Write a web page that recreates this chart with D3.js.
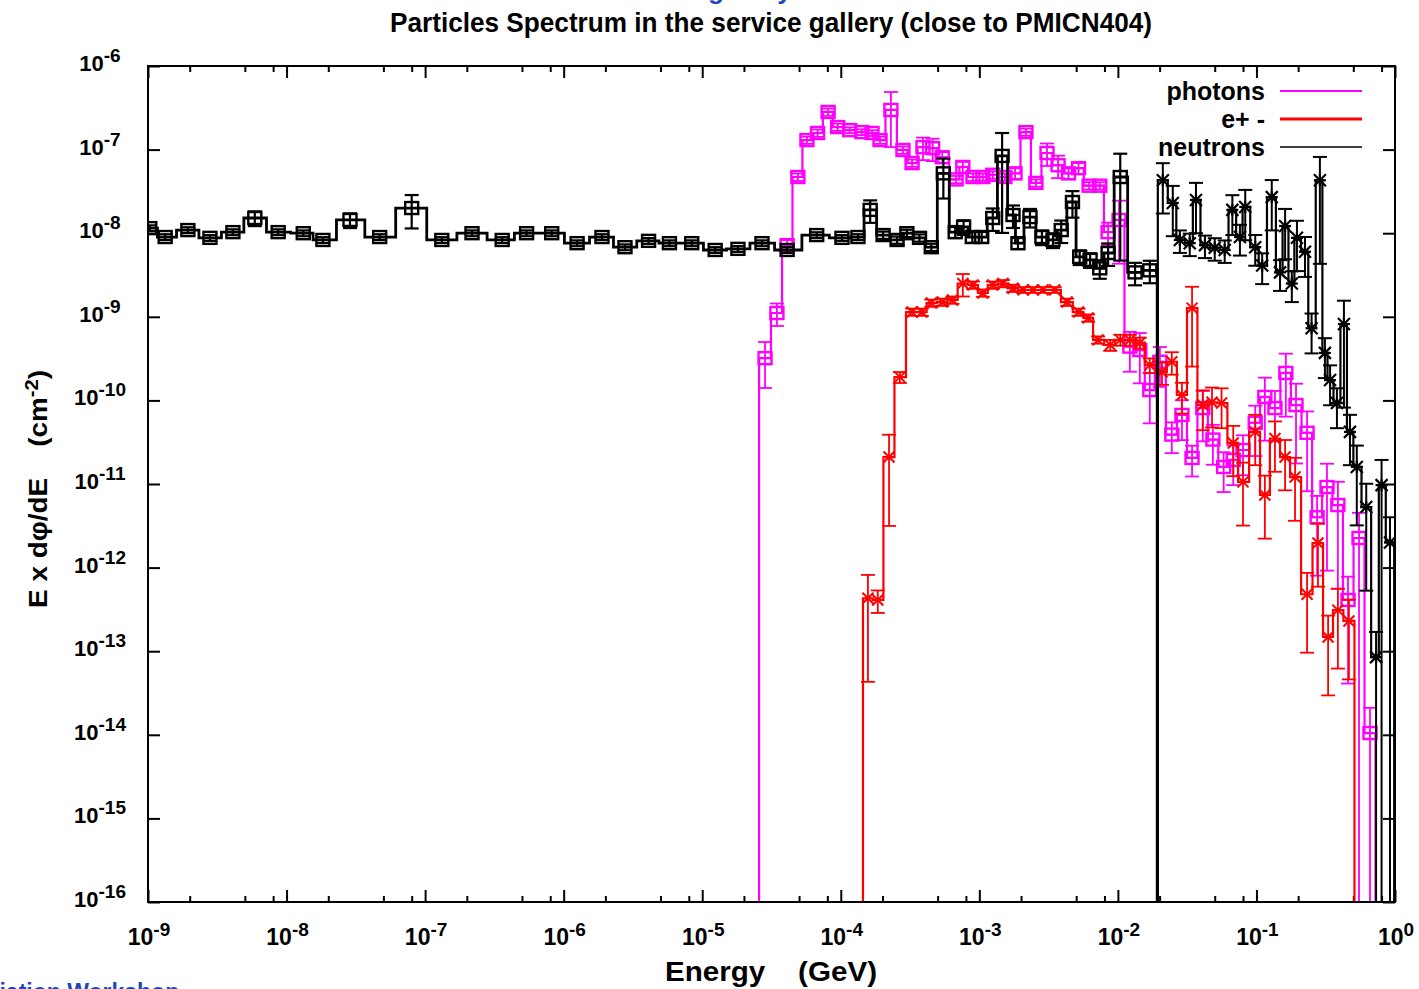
<!DOCTYPE html>
<html><head><meta charset="utf-8">
<script src="https://cdn.jsdelivr.net/npm/d3@7"></script>
<style>
body{margin:0;background:#fff}
svg{display:block}
text{font-family:"Liberation Sans",Arial,Helvetica,sans-serif;font-weight:bold}
</style>
</head><body>
<svg id="c" width="1419" height="989"></svg>
<script>
// ---------- tick labels ----------
const xMajorExp = [-9,-8,-7,-6,-5,-4,-3,-2,-1,0];
const yMajorExp = [-16,-15,-14,-13,-12,-11,-10,-9,-8,-7,-6];
const xMinorMult = [2,5,8];
const legendLabels = ["photons","e+ -","neutrons"];

// ---------- neutrons (low-energy group, box markers) ----------
const neutronLowE = [1.03e-9,1.33e-9,1.94e-9,2.8e-9,4.1e-9,5.9e-9,8.7e-9,1.32e-8,1.83e-8,2.87e-8,
  4.7e-8,8.0e-8,1.32e-7,2.18e-7,3.6e-7,5.4e-7,8.2e-7,1.25e-6,1.89e-6,2.77e-6,
  4.1e-6,5.8e-6,8.4e-6,1.24e-5,1.81e-5,2.70e-5,4.1e-5,6.7e-5,1.02e-4,1.33e-4,
  1.63e-4,2.02e-4,2.55e-4,3.0e-4,3.7e-4,4.5e-4,5.5e-4,6.7e-4,7.7e-4,8.9e-4,
  1.04e-3,1.25e-3,1.46e-3,1.75e-3,1.90e-3,2.32e-3,2.83e-3,3.4e-3,3.9e-3,4.7e-3,
  5.3e-3,6.3e-3,7.4e-3,8.5e-3,1.04e-2,1.33e-2,1.70e-2];
const neutronLowV = [1.15e-8,9.0e-9,1.09e-8,8.8e-9,1.03e-8,1.52e-8,1.03e-8,1.0e-8,8.3e-9,1.44e-8,
  9.0e-9,2.0e-8,8.3e-9,1.0e-8,8.3e-9,1.0e-8,1.0e-8,7.6e-9,9.0e-9,6.8e-9,
  8.1e-9,7.6e-9,7.6e-9,6.3e-9,6.5e-9,7.6e-9,6.3e-9,9.5e-9,8.8e-9,9.0e-9,
  1.9e-8,9.5e-9,8.3e-9,1.0e-8,8.8e-9,6.8e-9,5.2e-8,1.03e-8,1.19e-8,9.0e-9,
  9.0e-9,1.52e-8,8.4e-8,1.65e-8,7.6e-9,1.56e-8,9.0e-9,8.3e-9,1.09e-8,2.36e-8,
  5.2e-9,4.8e-9,3.8e-9,5.8e-9,4.7e-8,3.4e-9,3.6e-9];
const neutronLowErr = [0.08,0.08,0.08,0.08,0.08,0.2,0.08,0.08,0.08,0.2,
  0.08,0.43,0.08,0.08,0.08,0.08,0.08,0.08,0.08,0.08,
  0.08,0.08,0.08,0.08,0.08,0.08,0.08,0.08,0.08,0.08,
  0.3,0.1,0.1,0.1,0.1,0.1,0.5,0.15,0.2,0.15,
  0.15,0.3,0.88,0.3,0.15,0.25,0.2,0.2,0.3,0.35,
  0.2,0.2,0.25,0.3,0.9,0.3,0.3];

// ---------- neutrons (high-energy group, star markers) ----------
const neutronHighE = [0.0211,0.0249,0.028,0.033,0.0366,0.0425,0.050,0.059,0.067,0.076,
  0.083,0.098,0.110,0.129,0.148,0.161,0.180,0.196,0.224,0.250,
  0.287,0.312,0.340,0.381,0.428,0.473,0.53,0.62,0.73,0.80,0.92];
const neutronHighV = [4.3e-8,2.3e-8,8.3e-9,7.6e-9,2.5e-8,7.2e-9,6.7e-9,6.3e-9,1.9e-8,9.0e-9,
  2.06e-8,6.8e-9,4.1e-9,2.7e-8,3.4e-9,1.22e-8,2.5e-9,8.8e-9,6.0e-9,7.3e-10,
  4.3e-8,3.7e-10,1.75e-10,9.3e-11,8.2e-10,4.2e-11,1.6e-11,5.3e-12,8.5e-14,9.7e-12,2.0e-12];
const neutronHighErr = [0.6,0.6,0.3,0.3,0.6,0.3,0.3,0.3,0.5,0.4,
  0.6,0.4,0.4,0.6,0.4,0.6,0.4,0.6,0.5,0.5,
  0.9,0.5,0.5,0.5,0.9,0.6,0.8,0.9,1.0,1.0,1.0];

// ---------- photons ----------
const photonE = [2.84e-5,3.46e-5,4.1e-5,4.9e-5,5.7e-5,6.8e-5,8.1e-5,9.5e-5,1.16e-4,1.42e-4,
  1.68e-4,1.92e-4,2.30e-4,2.81e-4,3.27e-4,3.92e-4,4.6e-4,5.4e-4,6.8e-4,7.6e-4,
  9.0e-4,1.06e-3,1.25e-3,1.53e-3,1.81e-3,2.17e-3,2.56e-3,3.08e-3,3.7e-3,4.4e-3,
  5.2e-3,6.2e-3,7.4e-3,8.5e-3,1.02e-2,1.22e-2,1.44e-2,1.70e-2,2.01e-2,2.45e-2,
  2.90e-2,3.43e-2,4.1e-2,4.85e-2,5.8e-2,6.8e-2,8.0e-2,9.8e-2,0.115,0.136,
  0.163,0.193,0.232,0.274,0.323,0.387,0.458,0.55,0.66];
const photonV = [3.2e-10,1.11e-9,7.2e-9,4.7e-8,1.30e-7,1.58e-7,2.82e-7,1.86e-7,1.71e-7,1.62e-7,
  1.58e-7,1.30e-7,2.98e-7,9.9e-8,6.9e-8,1.07e-7,1.04e-7,8.1e-8,4.4e-8,6.2e-8,
  4.7e-8,4.7e-8,5.0e-8,4.7e-8,5.2e-8,1.62e-7,4.0e-8,9.1e-8,6.5e-8,5.2e-8,
  6.0e-8,3.7e-8,3.7e-8,1.03e-8,1.44e-8,4.4e-10,4.0e-10,1.33e-10,2.9e-10,3.9e-11,
  6.7e-11,2.05e-11,8.1e-11,3.4e-11,1.6e-11,1.94e-11,2.55e-11,5.4e-11,1.10e-10,8.1e-11,
  2.13e-10,8.8e-11,4.1e-11,4.0e-12,9.2e-12,5.6e-12,4.1e-13,2.26e-12,1.05e-14];
const photonErr = [0.56,0.3,0.15,0.1,0.1,0.1,0.1,0.1,0.08,0.08,
  0.08,0.1,0.64,0.1,0.1,0.3,0.3,0.15,0.1,0.15,
  0.1,0.1,0.1,0.1,0.15,0.1,0.1,0.3,0.3,0.15,
  0.15,0.1,0.1,0.3,0.7,0.5,0.6,0.6,0.5,0.4,
  0.5,0.4,0.6,0.5,0.5,0.5,0.5,0.6,0.7,0.6,
  0.7,0.8,0.8,0.8,0.9,0.9,0.9,1.0,1.0];

// ---------- e+ - ----------
const epmE = [1.57e-4,1.85e-4,2.23e-4,2.67e-4,3.27e-4,3.85e-4,4.5e-4,5.4e-4,6.4e-4,7.6e-4,
  9.0e-4,1.06e-3,1.25e-3,1.48e-3,1.75e-3,2.07e-3,2.44e-3,2.88e-3,3.5e-3,4.3e-3,
  5.2e-3,6.1e-3,7.2e-3,8.8e-3,1.04e-2,1.22e-2,1.44e-2,1.70e-2,2.08e-2,2.45e-2,
  2.90e-2,3.43e-2,4.1e-2,4.78e-2,5.6e-2,6.8e-2,8.0e-2,9.8e-2,0.115,0.136,
  0.161,0.190,0.232,0.278,0.329,0.387,0.465];
const epmV = [4.3e-13,4.1e-13,2.1e-11,1.9e-10,1.14e-9,1.14e-9,1.46e-9,1.50e-9,1.59e-9,2.5e-9,
  2.4e-9,1.93e-9,2.4e-9,2.5e-9,2.2e-9,2.1e-9,2.1e-9,2.1e-9,2.1e-9,1.50e-9,
  1.14e-9,9.7e-10,5.3e-10,4.6e-10,5.3e-10,5.3e-10,4.9e-10,2.65e-10,2.19e-10,2.9e-10,
  1.16e-10,1.27e-9,8.8e-11,9.5e-11,9.3e-11,3.1e-11,1.06e-11,4.2e-11,7.4e-12,3.5e-11,
  2.1e-11,1.21e-11,4.8e-13,1.97e-12,1.48e-13,3.1e-13,2.3e-13];
const epmErr = [0.9,0.3,0.85,0.15,0.1,0.1,0.1,0.1,0.1,0.3,
  0.1,0.1,0.1,0.1,0.1,0.08,0.08,0.08,0.08,0.1,
  0.1,0.1,0.1,0.15,0.15,0.15,0.15,0.2,0.3,0.3,
  0.4,0.8,0.5,0.5,0.5,0.6,0.7,0.6,0.7,0.6,
  0.6,0.7,0.8,0.7,0.8,0.8,0.8];

// ---------- layout ----------
const X0=148, X1=1395, Y0=66, Y1=902;
const svg = d3.select("#c");
const x = d3.scaleLog().domain([1e-9,1]).range([X0,X1]);
const y = d3.scaleLog().domain([1e-16,1e-6]).range([Y1,Y0]);
const yc = v => v>0 ? Math.min(Y1+4, y(v)) : Y1+4;

svg.append("defs").append("clipPath").attr("id","clip")
  .append("rect").attr("x",X0).attr("y",Y0).attr("width",X1-X0).attr("height",Y1-Y0);

// ---------- axes ticks ----------
const majorX = xMajorExp.map(e=>Math.pow(10,e));
const minorX = [];
xMajorExp.slice(0,-1).forEach(e=>xMinorMult.forEach(m=>minorX.push(m*Math.pow(10,e))));
const majorY = yMajorExp.map(e=>Math.pow(10,e));

function tickGroup(axis, tr){
  const g = svg.append("g").attr("transform",tr).call(axis);
  g.select(".domain").remove();
  g.selectAll("line").attr("stroke","#000").attr("stroke-width",2);
  return g;
}
tickGroup(d3.axisBottom(x).tickValues(majorX).tickSize(-12).tickFormat(""), `translate(0,${Y1})`);
tickGroup(d3.axisBottom(x).tickValues(minorX).tickSize(-6).tickFormat(""), `translate(0,${Y1})`);
tickGroup(d3.axisTop(x).tickValues(majorX).tickSize(-12).tickFormat(""), `translate(0,${Y0})`);
tickGroup(d3.axisTop(x).tickValues(minorX).tickSize(-6).tickFormat(""), `translate(0,${Y0})`);
tickGroup(d3.axisLeft(y).tickValues(majorY).tickSize(-12).tickFormat(""), `translate(${X0},0)`);
tickGroup(d3.axisRight(y).tickValues(majorY).tickSize(-12).tickFormat(""), `translate(${X1},0)`);

// ---------- tick labels ----------
function powLabel(px, py, e, fs, ss){
  const t = svg.append("text").attr("x",px).attr("y",py).attr("text-anchor","middle")
    .style("font-size",fs+"px").attr("fill","#000");
  t.append("tspan").text("10");
  t.append("tspan").attr("dy",-9).style("font-size",ss+"px").text(e<0 ? "-"+(-e) : String(e));
}
xMajorExp.forEach(e=>powLabel(x(Math.pow(10,e))+1, 945, e, 23, 19));
yMajorExp.forEach(e=>powLabel(100, y(Math.pow(10,e))+5, e, 22, 19));

// ---------- data drawing ----------
const plot = svg.append("g").attr("clip-path","url(#clip)");

function edgesOf(E){
  const l = E.map(e=>Math.log10(e)), n=l.length, ed=[];
  for(let i=0;i<=n;i++){
    let v;
    if(i===0) v = l[0]-(l[1]-l[0])/2;
    else if(i===n) v = l[n-1]+(l[n-1]-l[n-2])/2;
    else v = (l[i-1]+l[i])/2;
    ed.push(Math.pow(10,v));
  }
  return ed;
}
function stepPath(E,V){
  const ed = edgesOf(E);
  let p = `M${x(ed[0])},${Y1+4}`;
  V.forEach((v,i)=>{ p += `V${yc(v)}H${x(ed[i+1])}`; });
  p += `V${Y1+4}`;
  return p;
}
function drawSeries(E,V,R,color,marker,lw,elw){
  const g = plot.append("g");
  g.append("path").attr("d",stepPath(E,V)).attr("fill","none")
    .attr("stroke",color).attr("stroke-width",lw).attr("stroke-linejoin","miter");
  const cap = 7;
  E.forEach((e,i)=>{
    const v=V[i], r=R[i], cx=x(e);
    const top = yc(v*(1+r)), bot = yc(v*(1-r));
    g.append("line").attr("x1",cx).attr("x2",cx).attr("y1",top).attr("y2",bot)
      .attr("stroke",color).attr("stroke-width",elw);
    g.append("line").attr("x1",cx-cap).attr("x2",cx+cap).attr("y1",top).attr("y2",top)
      .attr("stroke",color).attr("stroke-width",elw);
    if(bot < Y1) g.append("line").attr("x1",cx-cap).attr("x2",cx+cap).attr("y1",bot).attr("y2",bot)
      .attr("stroke",color).attr("stroke-width",elw);
    const cy = yc(v);
    if(marker==="box"){
      g.append("rect").attr("x",cx-6.5).attr("y",cy-6).attr("width",13).attr("height",12)
        .attr("fill","none").attr("stroke",color).attr("stroke-width",2.4);
      g.append("line").attr("x1",cx-6.5).attr("x2",cx+6.5).attr("y1",cy).attr("y2",cy)
        .attr("stroke",color).attr("stroke-width",1.8);
    } else if(marker==="star"){
      const s=6;
      [[-s,0,s,0],[0,-s,0,s],[-s,-s,s,s],[-s,s,s,-s]].forEach(a=>
        g.append("line").attr("x1",cx+a[0]).attr("y1",cy+a[1]).attr("x2",cx+a[2]).attr("y2",cy+a[3])
          .attr("stroke",color).attr("stroke-width",2.2));
    } else {
      const s=5.5;
      [[-s,-s,s,s],[-s,s,s,-s]].forEach(a=>
        g.append("line").attr("x1",cx+a[0]).attr("y1",cy+a[1]).attr("x2",cx+a[2]).attr("y2",cy+a[3])
          .attr("stroke",color).attr("stroke-width",2));
    }
  });
}
drawSeries(photonE, photonV, photonErr, "#ff00ff", "box", 2.2, 1.8);
drawSeries(epmE, epmV, epmErr, "#ff0000", "x", 2.2, 1.8);
drawSeries(neutronLowE, neutronLowV, neutronLowErr, "#000", "box", 2.8, 2.2);
drawSeries(neutronHighE, neutronHighV, neutronHighErr, "#000", "star", 2.2, 2);

// ---------- frame ----------
svg.append("rect").attr("x",X0).attr("y",Y0).attr("width",X1-X0).attr("height",Y1-Y0)
  .attr("fill","none").attr("stroke","#000").attr("stroke-width",2);

// ---------- legend ----------
const legColors = ["#ff00ff","#ff0000","#000"];
const legWidths = [2.2,3.2,1.4];
const legY = [91,119,147];
legendLabels.forEach((lab,i)=>{
  svg.append("text").attr("x",1265).attr("y",legY[i]+9).attr("text-anchor","end")
    .style("font-size","25px").style("white-space","pre").text(lab);
  svg.append("line").attr("x1",1280).attr("x2",1362).attr("y1",legY[i]).attr("y2",legY[i])
    .attr("stroke",legColors[i]).attr("stroke-width",legWidths[i]);
});

// ---------- titles ----------
svg.append("text").attr("x",771).attr("y",32).attr("text-anchor","middle")
  .style("font-size","27px").attr("textLength",762).attr("lengthAdjust","spacingAndGlyphs")
  .text("Particles Spectrum in the service gallery (close to PMICN404)");

svg.append("text").attr("x",665).attr("y",981).style("font-size","27px")
  .style("white-space","pre").attr("textLength",212).attr("lengthAdjust","spacingAndGlyphs")
  .text("Energy    (GeV)");

const yt = svg.append("text").attr("transform","translate(47,608) rotate(-90)")
  .attr("x",0).attr("y",0).style("font-size","25px").style("white-space","pre")
  .attr("textLength",238).attr("lengthAdjust","spacingAndGlyphs");
yt.append("tspan").text("E x d\u03c6/dE    (cm");
yt.append("tspan").attr("dy",-9).style("font-size","18px").text("-2");
yt.append("tspan").attr("dy",9).text(")");

// ---------- slide fragments (cut off by the picture edge, as in the reference) ----------
svg.append("text").attr("x",-44).attr("y",1000).style("font-size","23px").attr("fill","#1f45b5")
  .text("Radiation Workshop");
svg.append("text").attr("x",708).attr("y",-1).style("font-size","26px").attr("fill","#1f45b5")
  .text("gallery");
</script>
</body></html>
